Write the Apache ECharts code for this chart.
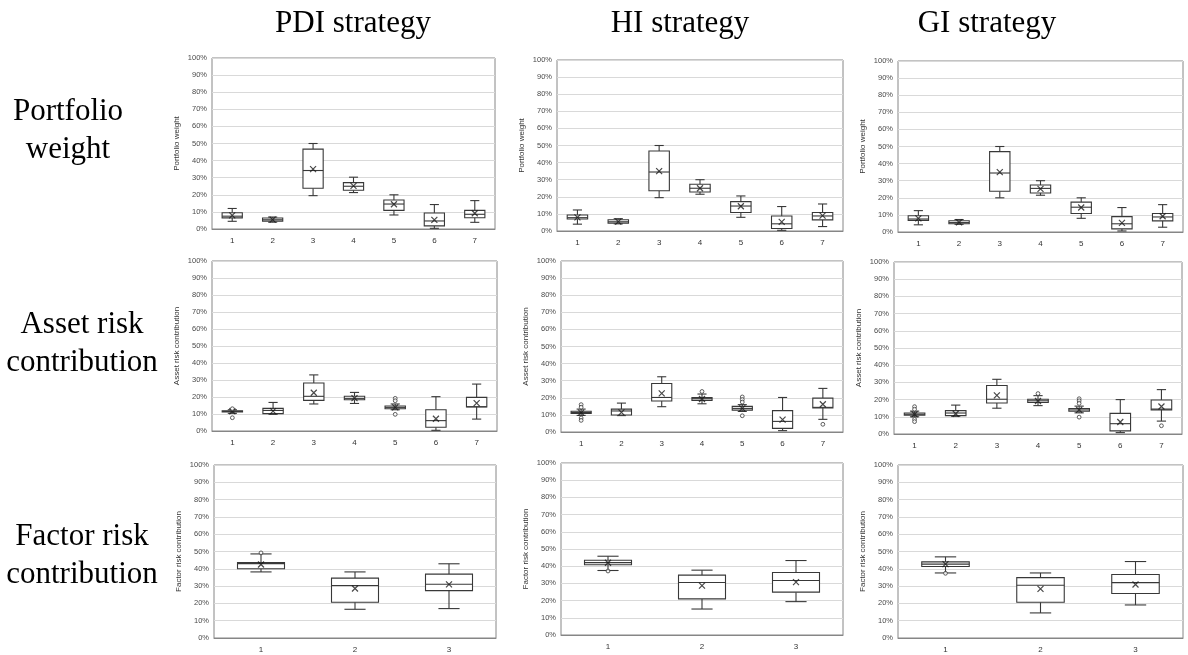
<!DOCTYPE html>
<html><head><meta charset="utf-8">
<script src="https://cdn.jsdelivr.net/npm/echarts@6/dist/echarts.min.js"></script>
<style>html,body{margin:0;padding:0;background:#fff}#c{width:1188px;height:655px}</style>
</head><body><div id="c"></div>
<script>
// ---------- DATA ----------
const assetCats = ['1','2','3','4','5','6','7'];
const factorCats = ['1','2','3'];
const columnTitles = ['PDI strategy','HI strategy','GI strategy'];
const rowTitles = ['Portfolio\nweight','Asset risk\ncontribution','Factor risk\ncontribution'];
const yNames = ['Portfolio weight','Asset risk contribution','Factor risk contribution'];
const yTickValues = [0,10,20,30,40,50,60,70,80,90,100];

// box stats: [min, q1, median, q3, max] in %
const pwPDI = [[4.5,6.5,7.5,9.5,12],[4,4.6,5.4,6.4,7],[19.5,23.8,34.2,46.7,50],[21.3,22.7,25,27.1,30.3],[8.2,10.9,14.6,17,20],[0.4,1.8,4.7,9.4,14.3],[3.9,6.6,8.6,10.9,16.6]];
const pwPDIMean = [8,5.5,35,25.2,14.5,5.3,9.2];
const pwHI = [[4,7,7.8,9.4,12.3],[4.2,4.6,5.4,6.6,7.2],[19.5,23.5,34.5,46.8,50],[21.5,22.8,25,27.3,30],[8,10.8,14.6,17.2,20.5],[0.4,1.5,4.2,8.8,14.3],[2.6,6.5,8.8,10.8,15.8]];
const pwHIMean = [8,5.5,35,25,14.5,5.3,9];
const pwGI = [[4.2,6.8,7.6,9.5,12.5],[4.5,4.8,5.5,6.6,7.3],[20,23.8,34.5,47,50],[21.5,22.8,25.5,27.5,30],[8,10.8,14.5,17.5,20],[0.6,1.8,4.8,9,14.3],[2.8,6.5,8.8,10.8,16]];
const pwGIMean = [8,5.6,35,25.2,14.3,5.3,9.2];

const arcPDI = [[10.4,11.2,11.5,11.9,12.5],[9.8,10.2,12.1,13.3,16.8],[15.9,18,20.4,28.2,33],[16.2,18.4,19.2,20.4,22.7],[12.5,13.1,13.9,14.7,15.9],[0.4,2.2,6.1,12.5,20.2],[7,14.1,14.3,19.8,27.6]];
const arcPDIMean = [11.6,11.7,22.5,19.3,13.9,7.2,16.4];
const arcPDIOut = [[0,13.1],[0,7.8],[4,19.2],[4,17.8],[4,9.8]];
const arcHI = [[9.7,10.9,11.4,12.1,13.4],[9.6,9.9,12.3,13.4,16.9],[14.8,18.1,20.2,28.4,32.3],[16.5,18.5,19.5,20.2,22.2],[12,12.8,13.8,15,16],[0.8,2.1,6.2,12.5,20.2],[7.4,14,14.4,19.8,25.5]];
const arcHIMean = [11.3,11.5,22.6,19.3,13.8,7.2,16.2];
const arcHIOut = [[0,16],[0,14.5],[0,8.2],[0,6.8],[3,23.7],[4,20.5],[4,19],[4,17.5],[4,9.5],[6,4.5]];
const arcGI = [[10,11,11.5,12.2,13.3],[10.3,10.7,12.2,13.6,16.8],[15,18,20.2,28.2,31.8],[16.5,18.3,19.3,20.2,22.3],[12.3,13.2,14,14.8,16.2],[0.8,1.8,6,12,20],[7.5,14,14.5,19.8,25.8]];
const arcGIMean = [11.5,11.8,22.5,19.2,14,7,16];
const arcGIOut = [[0,15.9],[0,14.4],[0,8.5],[0,7.2],[3,23.5],[4,20.5],[4,19.3],[4,17.8],[4,9.8],[6,4.8]];

const frcPDI = [[38.2,40,43,43.6,48.6],[16.6,20.7,30.3,34.6,38.2],[17,27.4,31.1,36.9,42.9]];
const frcPDIMean = [42.5,28.6,31];
const frcPDIOut = [[0,49.2]];
const frcHI = [[37.5,40.8,42.1,43.5,45.8],[15.1,21,30.5,34.8,37.7],[19.4,24.9,31.7,36.3,43.3]];
const frcHIMean = [42,28.7,30.7];
const frcHIOut = [[0,37.2]];
const frcGI = [[37.6,41.3,42.7,44,46.9],[14.5,20.7,30.5,34.9,37.6],[19.1,25.7,32,36.7,44.2]];
const frcGIMean = [42.7,28.4,30.9];
const frcGIOut = [[0,37.4]];

// ---------- LAYOUT ----------
const panels = [
  {cats:assetCats, box:pwPDI, mean:pwPDIMean, out:[], row:0, grid:{left:212,top:58,width:283,height:171}},
  {cats:assetCats, box:pwHI, mean:pwHIMean, out:[], row:0, grid:{left:557,top:60,width:286,height:171}},
  {cats:assetCats, box:pwGI, mean:pwGIMean, out:[], row:0, grid:{left:898,top:61,width:285,height:171}},
  {cats:assetCats, box:arcPDI, mean:arcPDIMean, out:arcPDIOut, row:1, grid:{left:212,top:261,width:285,height:170}},
  {cats:assetCats, box:arcHI, mean:arcHIMean, out:arcHIOut, row:1, grid:{left:561,top:261,width:282,height:171}},
  {cats:assetCats, box:arcGI, mean:arcGIMean, out:arcGIOut, row:1, grid:{left:894,top:262,width:288,height:172}},
  {cats:factorCats, box:frcPDI, mean:frcPDIMean, out:frcPDIOut, row:2, grid:{left:214,top:465,width:282,height:173}},
  {cats:factorCats, box:frcHI, mean:frcHIMean, out:frcHIOut, row:2, grid:{left:561,top:463,width:282,height:172}},
  {cats:factorCats, box:frcGI, mean:frcGIMean, out:frcGIOut, row:2, grid:{left:898,top:465,width:285,height:173}}
];

const LINE = '#383838';
function boxRender(params, api){
  const x = api.value(0);
  const lo = api.coord([x, api.value(1)]);
  const q1 = api.coord([x, api.value(2)]);
  const md = api.coord([x, api.value(3)]);
  const q3 = api.coord([x, api.value(4)]);
  const hi = api.coord([x, api.value(5)]);
  const bw = api.size([1,0])[0]*0.5;
  const cw = bw*0.45;
  const cx = md[0];
  const st = {stroke:LINE, lineWidth:1.1, fill:null};
  return {type:'group', children:[
    {type:'line', shape:{x1:cx,y1:q3[1],x2:cx,y2:hi[1]}, style:st},
    {type:'line', shape:{x1:cx-cw/2,y1:hi[1],x2:cx+cw/2,y2:hi[1]}, style:st},
    {type:'line', shape:{x1:cx,y1:q1[1],x2:cx,y2:lo[1]}, style:st},
    {type:'line', shape:{x1:cx-cw/2,y1:lo[1],x2:cx+cw/2,y2:lo[1]}, style:st},
    {type:'rect', shape:{x:cx-bw/2,y:q3[1],width:bw,height:q1[1]-q3[1]}, style:{stroke:LINE,lineWidth:1.1,fill:'#fff'}},
    {type:'line', shape:{x1:cx-bw/2,y1:md[1],x2:cx+bw/2,y2:md[1]}, style:st}
  ]};
}

const grids=[], xAxes=[], yAxes=[], series=[];
panels.forEach((p,i)=>{
  grids.push(Object.assign({show:true, borderColor:'#868686', borderWidth:1, backgroundColor:'#fff'}, p.grid));
  xAxes.push({type:'category', gridIndex:i, data:p.cats,
    axisLine:{lineStyle:{color:'#868686'}}, axisTick:{show:false},
    axisLabel:{fontSize:8, color:'#333', margin:8, fontFamily:'Liberation Sans'}, splitLine:{show:false}});
  yAxes.push({type:'value', gridIndex:i, min:yTickValues[0], max:yTickValues[yTickValues.length-1], interval:10,
    name:yNames[p.row], nameLocation:'middle', nameGap:31, nameRotate:90,
    nameTextStyle:{fontSize:8, color:'#333', fontFamily:'Liberation Sans'},
    axisLine:{show:false}, axisTick:{show:false},
    axisLabel:{fontSize:7.5, color:'#4a4a4a', formatter:'{value}%', margin:5, fontFamily:'Liberation Sans'},
    splitLine:{lineStyle:{color:'#d9d9d9', width:1}}});
  series.push({type:'custom', xAxisIndex:i, yAxisIndex:i, renderItem:boxRender,
    encode:{x:0, y:[1,2,3,4,5]}, z:2,
    data:p.box.map((b,k)=>[k].concat(b))});
  series.push({type:'scatter', xAxisIndex:i, yAxisIndex:i, z:3,
    symbol:'path://M0,0L10,10M10,0L0,10', symbolSize:6,
    itemStyle:{color:'rgba(0,0,0,0)', borderColor:'#1a1a1a', borderWidth:1.2},
    data:p.mean.map((m,k)=>[k,m])});
  if(p.out.length) series.push({type:'scatter', xAxisIndex:i, yAxisIndex:i, z:3,
    symbol:'circle', symbolSize:3.8,
    itemStyle:{color:'#fff', borderColor:'#383838', borderWidth:1},
    data:p.out});
});

const serif = '31px "Liberation Serif", "Times New Roman", serif';
const titleX = [353, 680, 987];
const rowX = [68, 82, 82], rowY = [131, 344, 556];
const graphics = [];
columnTitles.forEach((t,i)=>graphics.push({type:'text', x:titleX[i], y:24,
  style:{text:t, font:serif, fill:'#000', textAlign:'center', textVerticalAlign:'middle', align:'center', verticalAlign:'middle'}}));
rowTitles.forEach((t,i)=>graphics.push({type:'text', x:rowX[i], y:rowY[i],
  style:{text:t, font:serif, fill:'#000', lineHeight:38, textAlign:'center', textVerticalAlign:'middle', align:'center', verticalAlign:'middle'}}));

const chart = echarts.init(document.getElementById('c'), null, {renderer:'canvas'});
chart.setOption({animation:false, backgroundColor:'#fff', grid:grids, xAxis:xAxes, yAxis:yAxes, series:series, graphic:graphics});
</script></body></html>
